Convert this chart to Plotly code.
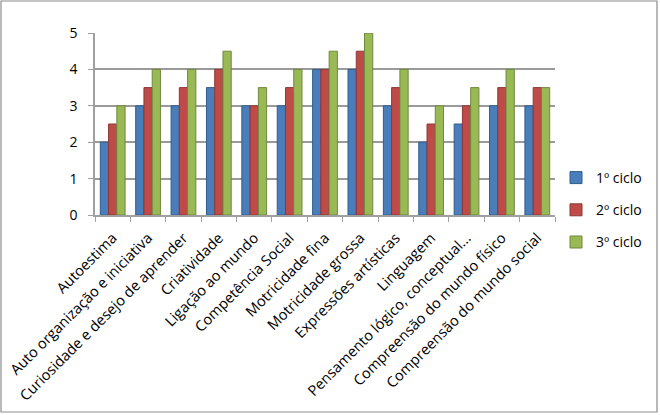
import plotly.graph_objects as go

categories = ["Autoestima", "Auto organização e iniciativa", "Curiosidade e desejo de aprender",
              "Criatividade", "Ligação ao mundo", "Competência Social", "Motricidade fina",
              "Motricidade grossa", "Expressões artísticas", "Linguagem",
              "Pensamento lógico, conceptual...", "Compreensão do mundo físico",
              "Compreensão do mundo social"]
ciclo1 = [2, 3, 3, 3.5, 3, 3, 4, 4, 3, 2, 2.5, 3, 3]
ciclo2 = [2.5, 3.5, 3.5, 4, 3, 3.5, 4, 4.5, 3.5, 2.5, 3, 3.5, 3.5]
ciclo3 = [3, 4, 4, 4.5, 3.5, 4, 4.5, 5, 4, 3, 3.5, 4, 3.5]
series_names = ["1º ciclo", "2º ciclo", "3º ciclo"]
y_ticks = [0, 1, 2, 3, 4, 5]

colors = ["#4A7EBB", "#BE4B48", "#98B954"]
edges = ["#2F5C8F", "#8C3836", "#71893F"]

fig = go.Figure()
for name, vals, c, e in zip(series_names, [ciclo1, ciclo2, ciclo3], colors, edges):
    fig.add_trace(go.Bar(x=categories, y=vals, name=name, legendgroup=name,
                         marker=dict(color=c, line=dict(color=e, width=1))))

L, T, W, H = 95, 33, 460, 182

def px(xp):
    return (xp - L) / W

def py(yp):
    return (T + H - yp) / H

fig.update_layout(
    width=660, height=415,
    margin=dict(l=L, r=660 - L - W, t=T, b=415 - T - H, autoexpand=False),
    paper_bgcolor="white", plot_bgcolor="white",
    barmode="group", bargap=0.3, bargroupgap=0,
    font=dict(family="Open Sans, Liberation Sans, sans-serif", size=12, color="#000000"),
    showlegend=True,
    legend=dict(x=px(556), y=py(210), xanchor="left", yanchor="middle",
                font=dict(size=14), tracegroupgap=11, itemwidth=30),
    xaxis=dict(tickangle=-45, showgrid=False, showline=True, linecolor="#A0A0A0",
               linewidth=1.5, ticks="outside", ticklen=5, tickcolor="#A0A0A0",
               tickson="boundaries", tickfont=dict(size=14.6), ticklabelstandoff=7,
               automargin=False),
    yaxis=dict(range=[0, 5], tickvals=y_ticks, showgrid=True, gridcolor="#9A9A9A",
               gridwidth=1.5, showline=True, linecolor="#A0A0A0", linewidth=1.5,
               ticks="outside", ticklen=5, tickcolor="#A0A0A0", zeroline=False,
               tickfont=dict(size=14), ticklabelstandoff=8, automargin=False),
    shapes=[dict(type="rect", xref="paper", yref="paper",
                 x0=px(1), x1=px(657), y0=py(412), y1=py(1),
                 line=dict(color="#8C8C8C", width=1.2), fillcolor="rgba(0,0,0,0)", layer="below")],
)

fig.write_html("out.html")
